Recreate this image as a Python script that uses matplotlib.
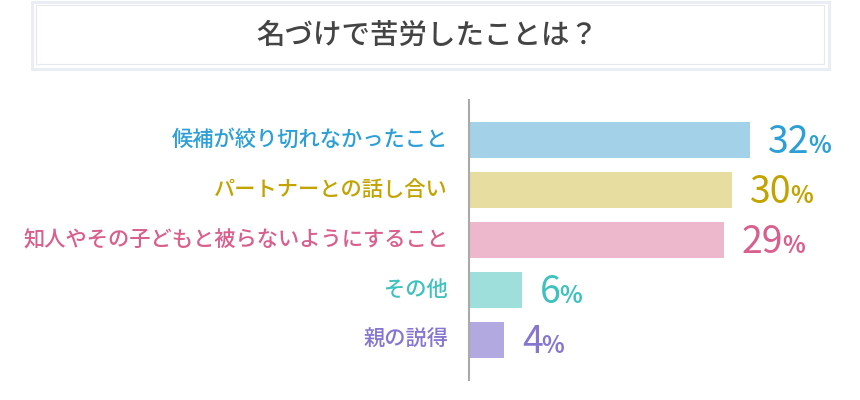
import matplotlib
matplotlib.use('Agg')
import matplotlib.pyplot as plt
from matplotlib.patches import Rectangle

plt.rcParams['font.family'] = ['Noto Sans CJK JP', 'DejaVu Sans']

title = '名づけで苦労したことは？'
categories = ['候補が絞り切れなかったこと', 'パートナーとの話し合い',
              '知人やその子どもと被らないようにすること', 'その他', '親の説得']
values = [32, 30, 29, 6, 4]
bar_colors = ['#a3d1e8', '#e7dda0', '#edb7cc', '#9edfdb', '#b2a9e0']
text_colors = ['#2b9fd6', '#c2a300', '#d95f8d', '#3fc2bd', '#8776d0']

W, H = 860, 400
fig = plt.figure(figsize=(W / 100, H / 100), dpi=100)

# title box (double frame)
outer = Rectangle((31.5 / W, 1 - 68.5 / H), 797 / W, 67 / H, transform=fig.transFigure,
                  fill=False, edgecolor='#e8eef4', linewidth=2.2)
inner = Rectangle((36 / W, 1 - 64 / H), 788 / W, 59 / H, transform=fig.transFigure,
                  fill=False, edgecolor='#e3e9ef', linewidth=0.8)
fig.patches.extend([outer, inner])
fig.text(427 / W, 1 - 35 / H, title, ha='center', va='center', fontsize=20.5,
         color='#444444', fontweight='medium')

# bar area: axis line at x=469px, from y=100 to 380
px_per_unit = 8.78
ax = fig.add_axes([469 / W, 20 / H, (W - 469) / W, 280 / H])
ax.set_xlim(0, (W - 469) / px_per_unit)
ax.set_ylim(len(values) - 0.2, -0.8)
ax.barh(range(len(values)), values, height=0.72, color=bar_colors)
for s in ['top', 'right', 'bottom']:
    ax.spines[s].set_visible(False)
ax.spines['left'].set_color('#aaaaaa')
ax.spines['left'].set_linewidth(1.5)
ax.set_xticks([])
ax.set_yticks([])
ax.patch.set_alpha(0)

renderer = fig.canvas.get_renderer()
for i, (cat, v) in enumerate(zip(categories, values)):
    ax.annotate(cat, xy=(0, i), xytext=(-15, 0), textcoords='offset points',
                ha='right', va='center', fontsize=15.3, color=text_colors[i],
                fontweight='medium', annotation_clip=False)
    num = ax.annotate(str(v), xy=(v, i), xytext=(13, -2), textcoords='offset points',
                      ha='left', va='center', fontsize=27, color=text_colors[i],
                      annotation_clip=False)
    bb = num.get_window_extent(renderer)
    x_end = ax.transData.inverted().transform((bb.x1, 0))[0]
    ax.annotate('%', xy=(x_end, i), xytext=(-1, -4), textcoords='offset points',
                ha='left', va='center', fontsize=17, color=text_colors[i],
                fontweight='bold', annotation_clip=False)

fig.savefig('out.png', dpi=100)
